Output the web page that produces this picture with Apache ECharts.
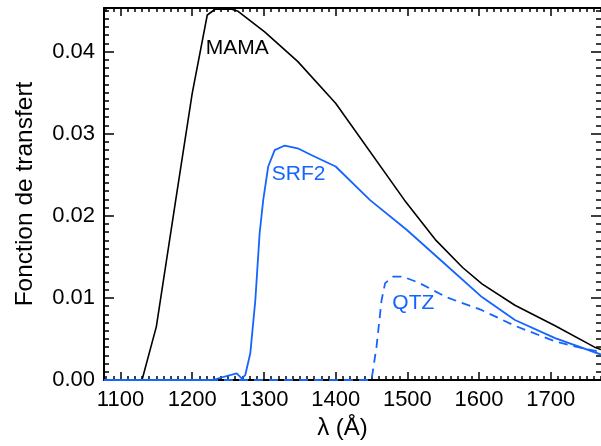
<!DOCTYPE html>
<html>
<head>
<meta charset="utf-8">
<script src="https://cdn.jsdelivr.net/npm/echarts@6/dist/echarts.min.js"></script>
<style>
html,body{margin:0;padding:0;background:#fff;}
#chart{width:601px;height:446px;}
</style>
</head>
<body>
<div id="chart"></div>
<script>
// ---- data ----
var mamaWavelength = [1077, 1130, 1150, 1177, 1200, 1221, 1232, 1255, 1264, 1301, 1347, 1400, 1496, 1540, 1577, 1604, 1650, 1706, 1761, 1770];
var mamaValue      = [0, 0, 0.0065, 0.0219, 0.0349, 0.04445, 0.04515, 0.04515, 0.0449, 0.0424, 0.0388, 0.0337, 0.0219, 0.0170, 0.0137, 0.0117, 0.0091, 0.0066, 0.0040, 0.0037];

var srf2Wavelength = [1077, 1228, 1262, 1269, 1274, 1281, 1288, 1294, 1299, 1306, 1315, 1329, 1347, 1366, 1400, 1448, 1499, 1554, 1604, 1650, 1706, 1770];
var srf2Value      = [0, 0, 0.0008, 0.0002, 0.0006, 0.00325, 0.0097, 0.01787, 0.0219, 0.026, 0.028, 0.02855, 0.02822, 0.0274, 0.026, 0.0219, 0.0183, 0.0140, 0.0101, 0.0073, 0.0051, 0.0031];

var qtzWavelength = [1077, 1450, 1457, 1464, 1469, 1480, 1494, 1517, 1554, 1604, 1650, 1706, 1738, 1770];
var qtzValue      = [0, 0, 0.00406, 0.0097, 0.0118, 0.01258, 0.01258, 0.0118, 0.0101, 0.0085, 0.0066, 0.0047, 0.0040, 0.0034];

var xTickLabels = [1100, 1200, 1300, 1400, 1500, 1600, 1700];
var yTickLabels = [0.00, 0.01, 0.02, 0.03, 0.04];

var annotations = [
  {text: 'MAMA', x: 1219, y: 0.0404, color: '#000000'},
  {text: 'SRF2', x: 1311, y: 0.0250, color: '#1464ff'},
  {text: 'QTZ',  x: 1479, y: 0.0093, color: '#1464ff'}
];

// ---- helpers ----
function pairs(xs, ys){ return xs.map(function(x,i){ return [x, ys[i]]; }); }
var X_MIN = 1077, X_MAX = 1770, Y_MIN = 0, Y_MAX = 0.0453;
var xMinor = []; for (var k = 108; k <= 177; k++) xMinor.push(k * 10);
var yMinor = []; for (var j = 0; j <= 45; j++) yMinor.push(j / 1000);

var BLUE = '#1464ff';
var FONT = 'Liberation Sans, Arial, Helvetica, sans-serif';

function xAx(pos, ticks, len, labels, showLine){
  var a = {
    type: 'value', position: pos, min: X_MIN, max: X_MAX,
    splitLine: {show: false},
    axisLine: {show: showLine, onZero: false, lineStyle: {color: '#000', width: 2}},
    axisTick: {show: true, inside: true, length: len, customValues: ticks, lineStyle: {color: '#000', width: 1.5}},
    axisLabel: {show: false}
  };
  if (labels) {
    a.axisLabel = {show: true, customValues: labels, margin: 9, color: '#000', fontSize: 22, fontFamily: FONT,
      formatter: function(v){ return String(v); }};
  }
  return a;
}
function yAx(pos, ticks, len, labels, showLine){
  var a = {
    type: 'value', position: pos, min: Y_MIN, max: Y_MAX,
    splitLine: {show: false},
    axisLine: {show: showLine, onZero: false, lineStyle: {color: '#000', width: 2}},
    axisTick: {show: true, inside: true, length: len, customValues: ticks, lineStyle: {color: '#000', width: 1.5}},
    axisLabel: {show: false}
  };
  if (labels) {
    a.axisLabel = {show: true, customValues: labels, margin: 9, color: '#000', fontSize: 22, fontFamily: FONT,
      formatter: function(v){ return v.toFixed(2); }};
  }
  return a;
}

var xa0 = xAx('bottom', xMinor, 4, xTickLabels, true);
xa0.name = 'λ (Å)';
xa0.nameLocation = 'middle';
xa0.nameGap = 34;
xa0.nameTextStyle = {color: '#000', fontSize: 24, fontFamily: FONT, padding: [0, 20, 0, 0]};
var ya0 = yAx('left', yMinor, 5, yTickLabels, true);
ya0.name = 'Fonction de transfert';
ya0.nameLocation = 'middle';
ya0.nameGap = 66;
ya0.nameTextStyle = {color: '#000', fontSize: 24.5, fontFamily: FONT};

var option = {
  backgroundColor: '#fff',
  animation: false,
  grid: {left: 104, width: 502, top: 8, height: 372, containLabel: false},
  xAxis: [
    xa0,
    xAx('bottom', xTickLabels, 8, null, false),
    xAx('top', xMinor, 4, null, true),
    xAx('top', xTickLabels, 8, null, false)
  ],
  yAxis: [
    ya0,
    yAx('left', yTickLabels, 10, null, false),
    yAx('right', yMinor, 5, null, false),
    yAx('right', yTickLabels, 10, null, false)
  ],
  series: [
    {type: 'line', name: 'MAMA', data: pairs(mamaWavelength, mamaValue), showSymbol: false, symbol: 'none',
     lineStyle: {color: '#000', width: 1.6}, z: 3},
    {type: 'line', name: 'SRF2', data: pairs(srf2Wavelength, srf2Value), showSymbol: false, symbol: 'none',
     lineStyle: {color: BLUE, width: 1.8}, z: 4},
    {type: 'line', name: 'QTZ', data: pairs(qtzWavelength, qtzValue), showSymbol: false, symbol: 'none',
     lineStyle: {color: BLUE, width: 1.8, type: [9, 6]}, z: 5}
  ]
};

var chart = echarts.init(document.getElementById('chart'), null, {renderer: 'canvas'});
chart.setOption(option);

var g = annotations.map(function(a){
  var p = chart.convertToPixel({xAxisIndex: 0, yAxisIndex: 0}, [a.x, a.y]);
  return {type: 'text', x: p[0], y: p[1], z: 10,
    style: {text: a.text, fill: a.color, fontSize: 21, fontFamily: FONT, verticalAlign: 'middle', align: 'left'}};
});
chart.setOption({graphic: g});
</script>
</body>
</html>
